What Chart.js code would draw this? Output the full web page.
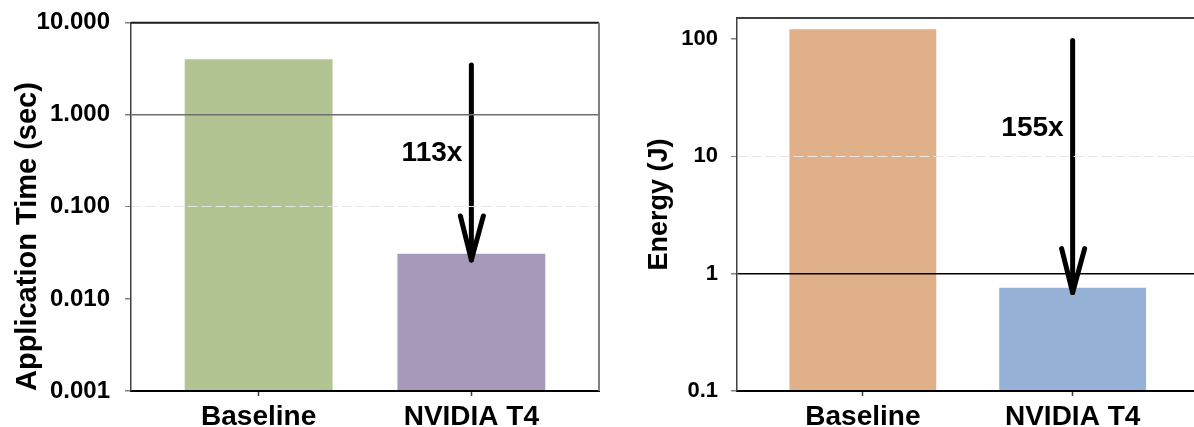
<!DOCTYPE html>
<html>
<head>
<meta charset="utf-8">
<script src="https://cdn.jsdelivr.net/npm/chart.js@4/dist/chart.umd.min.js"></script>
<style>
  html, body { margin: 0; padding: 0; background: #fff; overflow: hidden; }
  body { width: 1194px; height: 427px; position: relative; }
  #timeBox { position: absolute; left: 0; top: 0; width: 620px; height: 427px; }
  #energyBox { position: absolute; left: 620px; top: 0; width: 600px; height: 427px; }
</style>
</head>
<body>
<div id="timeBox"><canvas id="timeChart" width="620" height="427"></canvas></div>
<div id="energyBox"><canvas id="energyChart" width="600" height="427"></canvas></div>
<script>
const categories = ['Baseline', 'NVIDIA T4']

const timeValues = [4.0, 0.031]
const timeColors = ['#B3C493', '#A699B9']
const timeTicks = [0.001, 0.01, 0.1, 1, 10]
const timeArrow = [3.47, 0.0265]
const timeSpeedup = '113x'
const timeSpeedupAt = 0.38

const energyValues = [121, 0.76]
const energyColors = ['#E0B088', '#96B3D7']
const energyTicks = [0.1, 1, 10, 100]
const energyArrow = [97, 0.69]
const energySpeedup = '155x'
const energySpeedupAt = 17.5

Chart.defaults.font.family = '"Liberation Sans", Arial, sans-serif'
Chart.defaults.color = '#000'

function arrowPlugin(from, to, text, textAt) {
  return {
    id: 'arrow',
    afterDatasetsDraw(chart) {
      const { ctx, scales: { x, y } } = chart
      const px = x.getPixelForValue(1)
      const y0 = y.getPixelForValue(from)
      const y1 = y.getPixelForValue(to)
      ctx.save()
      ctx.strokeStyle = '#000'
      ctx.lineWidth = 5
      ctx.lineCap = 'round'
      ctx.lineJoin = 'round'
      ctx.beginPath()
      ctx.moveTo(px, y0)
      ctx.lineTo(px, y1)
      ctx.stroke()
      ctx.beginPath()
      ctx.moveTo(px - 11, y1 - 44)
      ctx.lineTo(px, y1)
      ctx.lineTo(px + 12, y1 - 44)
      ctx.stroke()
      ctx.fillStyle = '#000'
      ctx.font = 'bold 28px "Liberation Sans", Arial, sans-serif'
      ctx.textAlign = 'right'
      ctx.textBaseline = 'middle'
      ctx.fillText(text, px - 9, y.getPixelForValue(textAt))
      ctx.restore()
    }
  }
}

function framePlugin(topColor, rightColor) {
  return {
    id: 'frame',
    afterDraw(chart) {
      const { ctx, chartArea: a } = chart
      ctx.save()
      ctx.lineWidth = 2
      ctx.strokeStyle = topColor
      ctx.beginPath()
      ctx.moveTo(a.left, a.top)
      ctx.lineTo(a.right, a.top)
      ctx.stroke()
      ctx.strokeStyle = rightColor
      ctx.beginPath()
      ctx.moveTo(a.right, a.top)
      ctx.lineTo(a.right, a.bottom)
      ctx.stroke()
      ctx.restore()
    }
  }
}

function makeChart(id, cfg) {
  const data = cfg.values.map((v, i) => ({ x: i, y: v }))
  return new Chart(document.getElementById(id), {
    type: 'bar',
    data: {
      datasets: [{
        data: data,
        backgroundColor: cfg.colors,
        borderWidth: 0,
        barPercentage: cfg.barPct,
        categoryPercentage: 1
      }]
    },
    options: {
      responsive: false,
      animation: false,
      devicePixelRatio: 1,
      layout: { padding: cfg.padding },
      plugins: { legend: { display: false }, tooltip: { enabled: false } },
      scales: {
        x: {
          type: 'linear',
          min: -0.6,
          max: 1.6,
          offset: false,
          afterBuildTicks: s => { s.ticks = categories.map((c, i) => ({ value: i })) },
          afterFit: s => { s.height = 36; s.paddingLeft = 0; s.paddingRight = 0 },
          grid: { offset: false, drawOnChartArea: false, tickLength: 5, tickColor: '#404040', tickWidth: 1.5 },
          border: { color: '#000', width: 2, z: 1 },
          ticks: {
            padding: 4,
            maxRotation: 0,
            autoSkip: false,
            font: { size: 28, weight: 'bold' },
            callback: v => categories[v]
          }
        },
        y: {
          type: 'logarithmic',
          min: cfg.min,
          max: cfg.max,
          afterBuildTicks: s => { s.ticks = cfg.ticks.map(v => ({ value: v })) },
          afterFit: s => { s.width = cfg.axisWidth; s.paddingTop = 0; s.paddingBottom = 0 },
          grid: {
            z: 1,
            tickLength: 6,
            tickColor: '#808080',
            color: c => cfg.gridColor(c.tick ? c.tick.value : null),
            lineWidth: c => (c.tick && cfg.dashed.includes(c.tick.value)) ? 1 : 1.5
          },
          border: {
            z: 1,
            color: '#404040',
            width: 1.5,
            dash: c => (c.tick && cfg.dashed.includes(c.tick.value)) ? [10, 4] : []
          },
          ticks: {
            padding: cfg.tickPad,
            font: { size: cfg.tickSize, weight: 'bold' },
            callback: cfg.fmt
          },
          title: {
            display: true,
            text: cfg.title,
            align: cfg.titleAlign,
            font: { size: cfg.titleSize, weight: 'bold' },
            padding: { top: cfg.titlePad, bottom: 0 }
          }
        }
      }
    },
    plugins: [arrowPlugin(cfg.arrow[0], cfg.arrow[1], cfg.speedup, cfg.speedupAt), framePlugin(cfg.topColor, cfg.rightColor)]
  })
}

makeChart('timeChart', {
  values: timeValues,
  colors: timeColors,
  ticks: timeTicks,
  min: 0.001,
  max: 10,
  barPct: 0.695,
  padding: { left: 0, right: 21, top: 22.7, bottom: 0 },
  axisWidth: 131,
  tickPad: 15,
  tickSize: 24,
  fmt: v => Number(v).toFixed(3),
  gridColor: v => v === 1 ? '#6f6f6f' : v === 0.1 ? '#e6e6e6' : 'rgba(0,0,0,0)',
  dashed: [0.1],
  title: 'Application Time (sec)',
  titleAlign: 'start',
  titleSize: 29,
  titlePad: 11,
  arrow: timeArrow,
  speedup: timeSpeedup,
  speedupAt: timeSpeedupAt,
  topColor: '#1a1a1a',
  rightColor: '#7f7f7f'
})

makeChart('energyChart', {
  values: energyValues,
  colors: energyColors,
  ticks: energyTicks,
  min: 0.1,
  max: 151,
  barPct: 0.70,
  padding: { left: 0, right: 21.5, top: 18, bottom: 0 },
  axisWidth: 117,
  tickPad: 13,
  tickSize: 22,
  fmt: v => String(v),
  gridColor: v => v === 1 ? '#000' : v === 10 ? '#e6e6e6' : 'rgba(0,0,0,0)',
  dashed: [10],
  title: 'Energy (J)',
  titleAlign: 'center',
  titleSize: 27,
  titlePad: 23,
  arrow: energyArrow,
  speedup: energySpeedup,
  speedupAt: energySpeedupAt,
  topColor: '#404040',
  rightColor: '#404040'
})
</script>
</body>
</html>
